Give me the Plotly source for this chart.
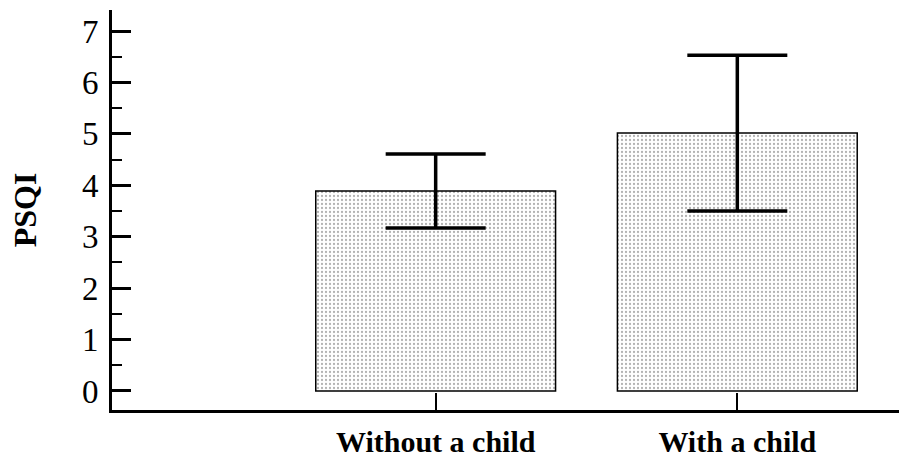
import plotly.graph_objects as go

categories = ["Without a child", "With a child"]
psqi_mean = [3.89, 5.02]
err_upper = [4.61, 6.53]
err_lower = [3.17, 3.50]

x_pos = list(range(len(categories)))
plus = [u - m for u, m in zip(err_upper, psqi_mean)]
minus = [m - l for m, l in zip(psqi_mean, err_lower)]

fig = go.Figure()
fig.add_trace(go.Bar(
    x=x_pos, y=psqi_mean, width=0.795,
    marker=dict(color="white", line=dict(color="black", width=1.5),
                pattern=dict(shape=".", fgcolor="#666", bgcolor="white", size=4, solidity=0.25)),
    error_y=dict(type="data", symmetric=False, array=plus, arrayminus=minus,
                 color="black", thickness=3.5, width=50),
    showlegend=False,
))

serif = "Liberation Serif, Times New Roman, serif"
fig.update_layout(
    width=899, height=461,
    margin=dict(l=112, r=0, t=10, b=51),
    plot_bgcolor="white", paper_bgcolor="white",
    font=dict(family=serif, color="black"),
    xaxis=dict(range=[-1.073, 1.536], tickvals=x_pos,
               ticktext=["<b>" + c + "</b>" for c in categories],
               showline=True, linecolor="black", linewidth=3, showgrid=False, zeroline=False,
               ticks="inside", ticklen=17, tickwidth=2, tickcolor="black", automargin=False,
               tickfont=dict(size=30, family=serif), ticklabelstandoff=3),
    yaxis=dict(range=[-0.37, 7.41], tickvals=[0, 1, 2, 3, 4, 5, 6, 7],
               showline=True, linecolor="black", linewidth=3, showgrid=False, zeroline=False,
               ticks="inside", ticklen=19, tickwidth=3, tickcolor="black", automargin=False,
               tickfont=dict(size=33, family=serif), ticklabelstandoff=4,
               minor=dict(dtick=0.5, ticks="inside", ticklen=10, tickwidth=2, tickcolor="black"),
               title=dict(text="<b>PSQI</b>", font=dict(size=32, family=serif), standoff=36)),
)
fig.write_html("out.html", config={"displayModeBar": False},
               post_script="document.body.style.margin='0';document.body.style.overflow='hidden';")
